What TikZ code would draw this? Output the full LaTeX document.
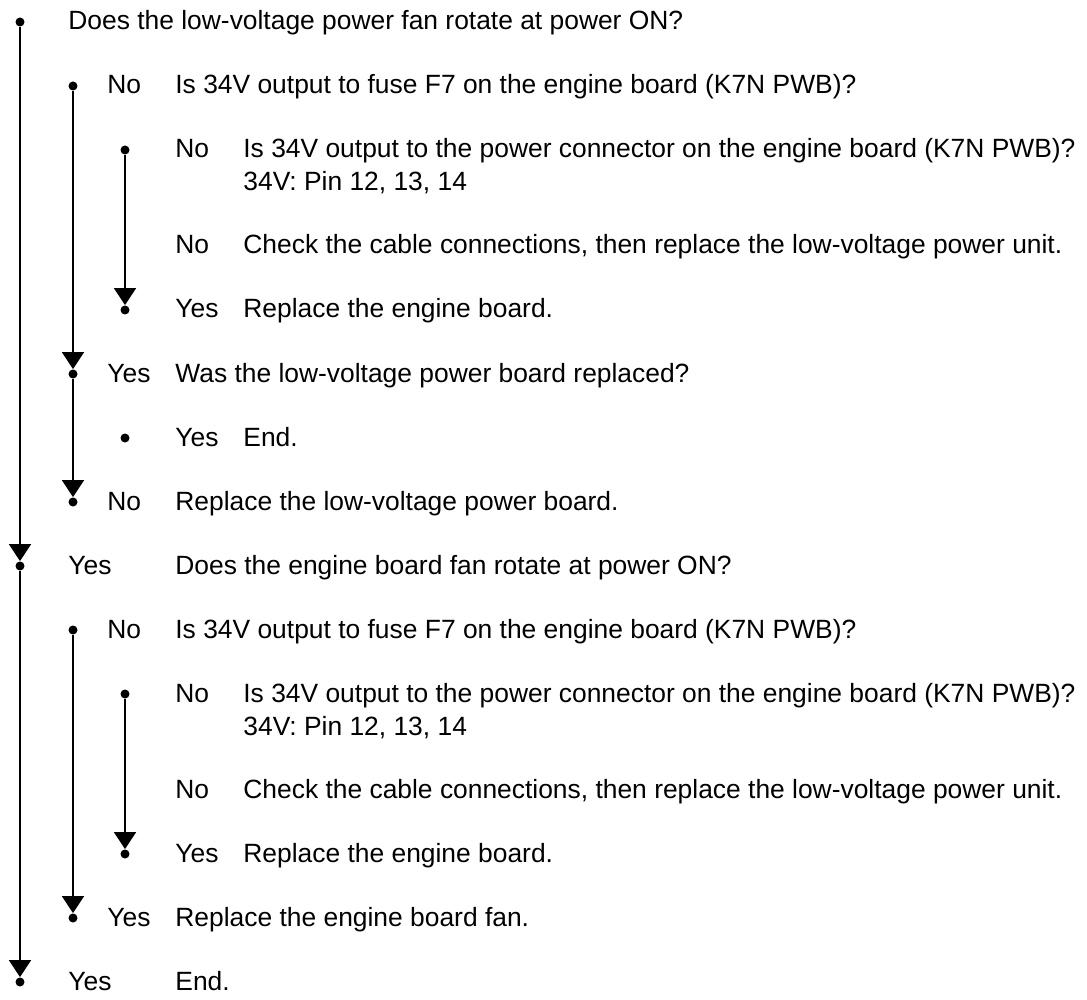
\documentclass[tikz,border=0pt]{standalone}
\usepackage{fontspec}
\setmainfont{Liberation Sans}
\usetikzlibrary{arrows.meta,positioning}

\begin{document}
\begin{tikzpicture}[x=0.5pt, y=-0.5pt,
    dot/.style={circle, fill, inner sep=0pt, minimum size=4.5pt},
    txt/.style={anchor=base west, inner sep=0pt, font=\fontsize{13.2}{16.5}\selectfont},
    flow/.style={line width=0.8pt, -{Triangle[width=11pt,length=8.5pt]}}]
  \useasboundingbox (0,0) rectangle (1087,1000);
  % dots
  \node[dot] (a0) at (20,22) {};
  \node[dot] (a1) at (20,566) {};
  \node[dot] (a2) at (20,982) {};
  \node[dot] (b0) at (73,86) {};
  \node[dot] (b1) at (73,374) {};
  \node[dot] (b2) at (73,502) {};
  \node[dot] (c0) at (125,150) {};
  \node[dot] (c1) at (125,310) {};
  \node[dot] (e1) at (125,438) {};
  \node[dot] (b3) at (73,630) {};
  \node[dot] (b4) at (73,918) {};
  \node[dot] (c2) at (125,694) {};
  \node[dot] (c3) at (125,854) {};
  % connectors
  \draw[flow] (a0) -- (a1);
  \draw[flow] (a1) -- (a2);
  \draw[flow] (b0) -- (b1);
  \draw[flow] (b1) -- (b2);
  \draw[flow] (c0) -- (c1);
  \draw[flow] (b3) -- (b4);
  \draw[flow] (c2) -- (c3);
  % first block
  \node[txt] (q0) at (68,30) {Does the low-voltage power fan rotate at power ON?};
  \node[txt] (n1) at (107,94) {No};
  \node[txt] (q1) at (175,94) {Is 34V output to fuse F7 on the engine board (K7N PWB)?};
  \node[txt] (n2) at (175,158) {No};
  \node[txt] (q2) at (243,158) {Is 34V output to the power connector on the engine board (K7N PWB)?};
  \node[txt] (p2) at (243,191) {34V: Pin 12, 13, 14};
  \node[txt] (n3) at (175,254) {No};
  \node[txt] (r3) at (243,254) {Check the cable connections, then replace the low-voltage power unit.};
  \node[txt] (y4) at (175,318) {Yes};
  \node[txt] (r4) at (243,318) {Replace the engine board.};
  \node[txt] (y5) at (107,382) {Yes};
  \node[txt] (q5) at (175,382) {Was the low-voltage power board replaced?};
  \node[txt] (y6) at (175,446) {Yes};
  \node[txt] (r6) at (243,446) {End.};
  \node[txt] (n7) at (107,510) {No};
  \node[txt] (r7) at (175,510) {Replace the low-voltage power board.};
  % second block
  \node[txt] (y8) at (68,574) {Yes};
  \node[txt] (q8) at (175,574) {Does the engine board fan rotate at power ON?};
  \node[txt] (n9) at (107,638) {No};
  \node[txt] (q9) at (175,638) {Is 34V output to fuse F7 on the engine board (K7N PWB)?};
  \node[txt] (n10) at (175,702) {No};
  \node[txt] (q10) at (243,702) {Is 34V output to the power connector on the engine board (K7N PWB)?};
  \node[txt] (p10) at (243,735) {34V: Pin 12, 13, 14};
  \node[txt] (n11) at (175,798) {No};
  \node[txt] (r11) at (243,798) {Check the cable connections, then replace the low-voltage power unit.};
  \node[txt] (y12) at (175,862) {Yes};
  \node[txt] (r12) at (243,862) {Replace the engine board.};
  \node[txt] (y13) at (107,926) {Yes};
  \node[txt] (r13) at (175,926) {Replace the engine board fan.};
  \node[txt] (y14) at (68,990) {Yes};
  \node[txt] (r14) at (175,990) {End.};
\end{tikzpicture}
\end{document}
